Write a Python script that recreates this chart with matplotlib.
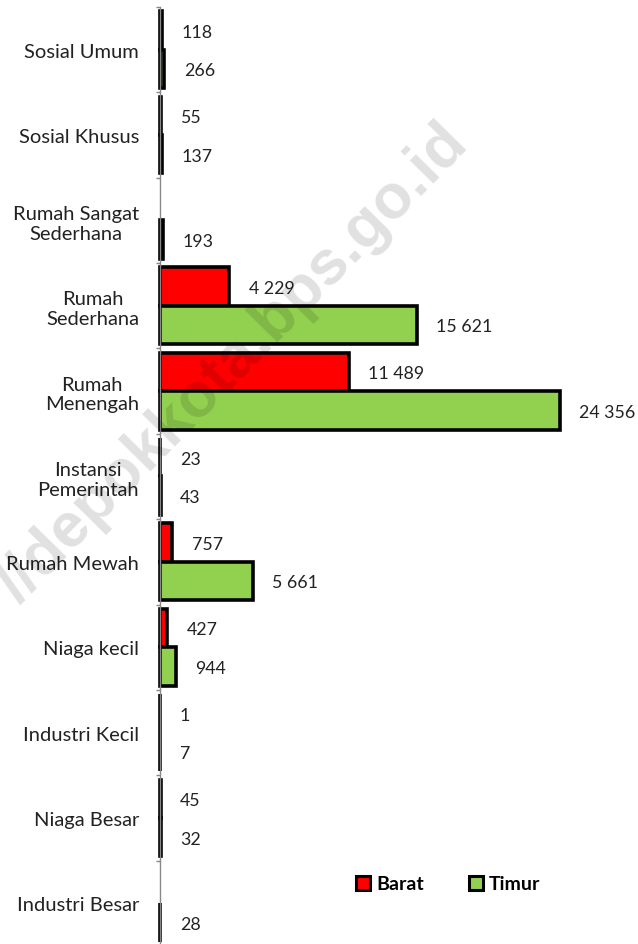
import matplotlib.pyplot as plt
import numpy as np
from matplotlib.patches import Patch

categories = ['Sosial Umum', 'Sosial Khusus', 'Rumah Sangat\nSederhana', 'Rumah\nSederhana',
              'Rumah\nMenengah', 'Instansi\nPemerintah', 'Rumah Mewah', 'Niaga kecil',
              'Industri Kecil', 'Niaga Besar', 'Industri Besar']
barat = [118, 55, None, 4229, 11489, 23, 757, 427, 1, 45, None]
timur = [266, 137, 193, 15621, 24356, 43, 5661, 944, 7, 32, 28]

plt.rcParams['font.family'] = ['Lato', 'DejaVu Sans']

fig = plt.figure(figsize=(6.38, 9.45), dpi=100)

ax = fig.add_axes([160 / 638, -2 / 945, 478 / 638, 939 / 945])
ax.set_facecolor('none')

y = np.arange(len(categories))
h = 0.45


def fmt(v):
    return f"{v:,}".replace(',', ' ')


for i in range(len(categories)):
    if barat[i] is not None:
        ax.barh(y[i] - h / 2, barat[i], height=h, color='#ff0000', edgecolor='black',
                linewidth=2.6, clip_on=False)
        ax.annotate(fmt(barat[i]), (barat[i], y[i] - h / 2), xytext=(14, -1), textcoords='offset points',
                    va='center', ha='left', fontsize=12.8, color='#222222')
    ax.barh(y[i] + h / 2, timur[i], height=h, color='#92d050', edgecolor='black',
            linewidth=2.6, clip_on=False)
    ax.annotate(fmt(timur[i]), (timur[i], y[i] + h / 2), xytext=(14, -1), textcoords='offset points',
                va='center', ha='left', fontsize=12.8, color='#222222')

ax.set_xlim(0, 24356 * 478 / 400)
ax.set_ylim(10.5, -0.5)

for s in ['top', 'right', 'bottom']:
    ax.spines[s].set_visible(False)
ax.spines['left'].set_color('#888888')
ax.spines['left'].set_linewidth(1)

ax.set_xticks([])
ax.set_yticks(y)
ax.set_yticklabels(categories, fontsize=14.5, color='#222222', multialignment='center')
ax.tick_params(axis='y', which='major', length=0, pad=15)
ax.set_yticks(np.arange(-0.5, 11, 1), minor=True)
ax.tick_params(axis='y', which='minor', length=3, width=1, color='#888888')

handles = [Patch(facecolor='#ff0000', edgecolor='black', linewidth=2.2),
           Patch(facecolor='#92d050', edgecolor='black', linewidth=2.2)]
fig.legend(handles, ['Barat', 'Timur'], loc='center', bbox_to_anchor=(448 / 638, 1 - 885 / 945),
           ncol=2, frameon=False, handlelength=0.75, handleheight=0.75, handletextpad=0.3,
           columnspacing=2.3, prop={'weight': 'bold', 'size': 14})

# watermark drawn on top, semi-transparent
fig.text(0.365, 0.615, '//depokkota.bps.go.id', rotation=45.5, ha='center', va='center',
         fontsize=45, fontweight='bold', family='Liberation Sans', color='black', alpha=0.12, zorder=10)

fig.savefig('out.png', dpi=100)
